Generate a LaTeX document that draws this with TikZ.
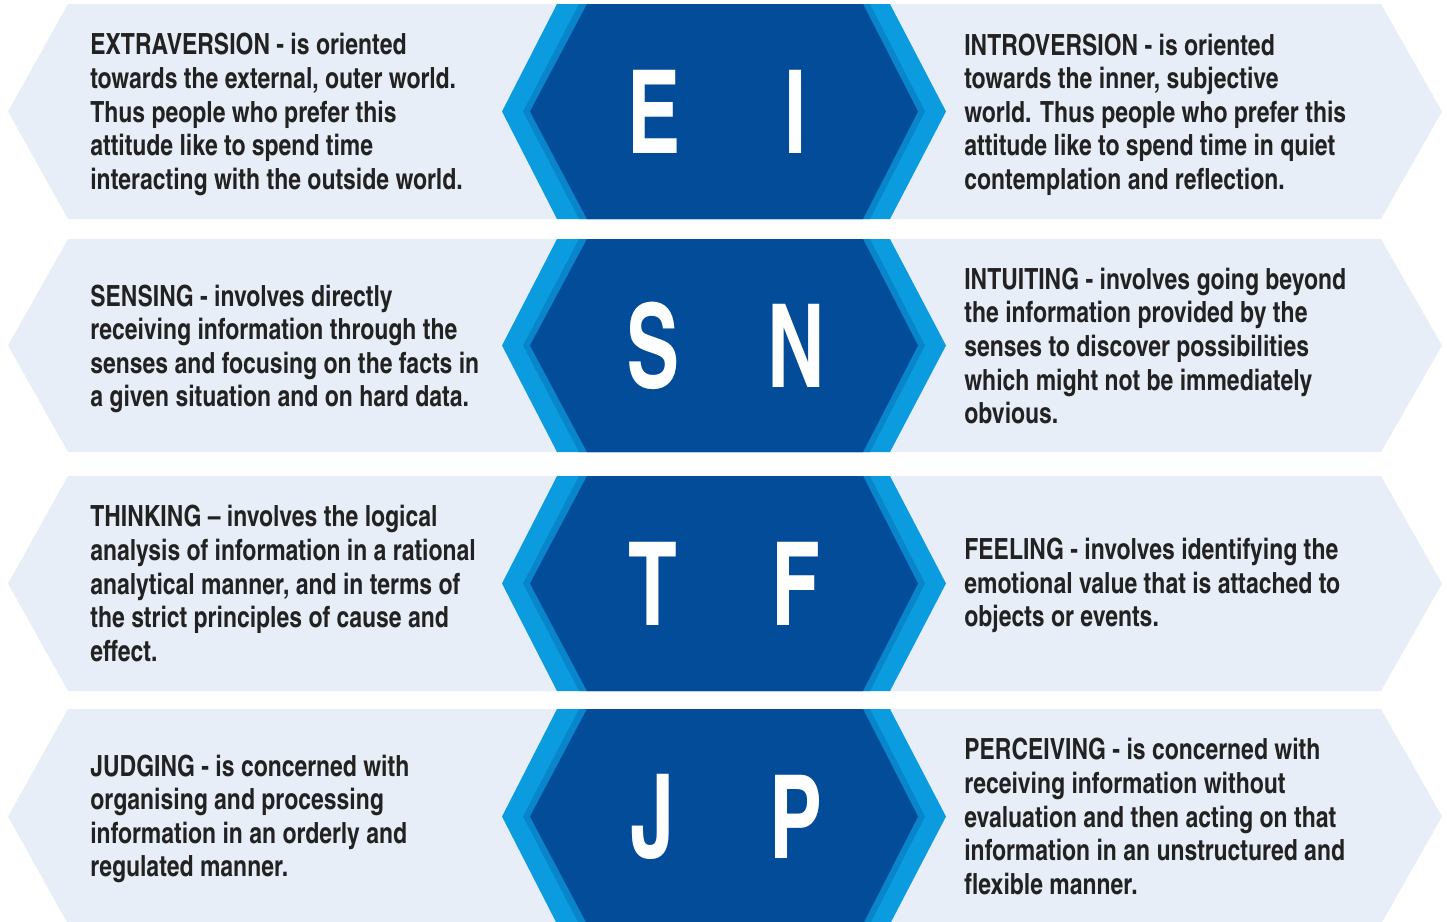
\documentclass[tikz,border=0pt]{standalone}
\usepackage{fontspec}
\setmainfont{TeX Gyre Heros Cn}[FakeStretch=0.96]
\newfontfamily\letterfont{TeX Gyre Heros Cn}[FakeStretch=0.84]
\definecolor{bandgrey}{HTML}{E8EEF7}
\definecolor{hexlight}{HTML}{0B9CDF}
\definecolor{hexshade}{HTML}{0986CB}
\definecolor{hexdark}{HTML}{034C99}
\definecolor{textgrey}{HTML}{222222}

\begin{document}
\begin{tikzpicture}[x=0.02cm,y=-0.02cm,
	band/.style={fill=bandgrey},
	outerhex/.style={fill=hexlight},
	shadehex/.style={fill=hexshade},
	innerhex/.style={fill=hexdark},
	letter/.style={text=white,inner sep=0,font=\letterfont\fontsize{66}{66}\selectfont\bfseries},
	desc/.style={anchor=west,align=left,inner sep=0,text=textgrey,font=\fontsize{16.6}{19.1}\selectfont\bfseries}]
	
		\useasboundingbox (0,0) rectangle (1447,921);
		\clip (0,0) rectangle (1447,921);
		
		% row E I
		\fill[band] (8,111.5) -- (68,4) -- (1381,4) -- (1442,111.5) -- (1381,219) -- (68,219) -- cycle;
		\fill[outerhex] (502,111.5) -- (557,4) -- (890,4) -- (946,111.5) -- (890,219) -- (557,219) -- cycle;
		\fill[shadehex] (523,111.5) -- (579,4) -- (870,4) -- (925,111.5) -- (870,219) -- (579,219) -- cycle;
		\fill[innerhex] (530,111.5) -- (587,4) -- (863,4) -- (918,111.5) -- (863,219) -- (587,219) -- cycle;
		\node[letter] (letE) at (654,111.5) {E};
		\node[letter] (letI) at (796,111.5) {I};
		\node[desc] (extra) at (90,114.5) {EXTRAVERSION - is oriented\\towards the external, outer world.\\Thus people who prefer this\\attitude like to spend time\\interacting with the outside world.};
		\node[desc] (intro) at (964,114.5) {INTROVERSION - is oriented\\towards the inner, subjective\\world. Thus people who prefer this\\attitude like to spend time in quiet\\contemplation and reflection.};
		
		% row S N
		\fill[band] (8,345.5) -- (68,239) -- (1381,239) -- (1442,345.5) -- (1381,452) -- (68,452) -- cycle;
		\fill[outerhex] (502,345.5) -- (557,239) -- (890,239) -- (946,345.5) -- (890,452) -- (557,452) -- cycle;
		\fill[shadehex] (523,345.5) -- (579,239) -- (870,239) -- (925,345.5) -- (870,452) -- (579,452) -- cycle;
		\fill[innerhex] (530,345.5) -- (587,239) -- (863,239) -- (918,345.5) -- (863,452) -- (587,452) -- cycle;
		\node[letter] (letS) at (653,345.5) {S};
		\node[letter] (letN) at (796,345.5) {N};
		\node[desc] (sens) at (90,349) {SENSING - involves directly\\receiving information through the\\senses and focusing on the facts in\\a given situation and on hard data.};
		\node[desc] (intu) at (964,346) {INTUITING - involves going beyond\\the information provided by the\\senses to discover possibilities\\which might not be immediately\\obvious.};
		
		% row T F
		\fill[band] (8,583.5) -- (68,476) -- (1381,476) -- (1442,583.5) -- (1381,691) -- (68,691) -- cycle;
		\fill[outerhex] (502,583.5) -- (557,476) -- (890,476) -- (946,583.5) -- (890,691) -- (557,691) -- cycle;
		\fill[shadehex] (523,583.5) -- (579,476) -- (870,476) -- (925,583.5) -- (870,691) -- (579,691) -- cycle;
		\fill[innerhex] (530,583.5) -- (587,476) -- (863,476) -- (918,583.5) -- (863,691) -- (587,691) -- cycle;
		\node[letter] (letT) at (653,583.5) {T};
		\node[letter] (letF) at (796,583.5) {F};
		\node[desc] (think) at (90,583.5) {THINKING -- involves the logical\\analysis of information in a rational\\analytical manner, and in terms of\\the strict principles of cause and\\effect.};
		\node[desc] (feel) at (964,585.5) {FEELING - involves identifying the\\emotional value that is attached to\\objects or events.};
		
		% row J P
		\fill[band] (8,816.5) -- (68,709) -- (1381,709) -- (1442,816.5) -- (1381,924) -- (68,924) -- cycle;
		\fill[outerhex] (502,816.5) -- (557,709) -- (890,709) -- (946,816.5) -- (890,924) -- (557,924) -- cycle;
		\fill[shadehex] (523,816.5) -- (579,709) -- (870,709) -- (925,816.5) -- (870,924) -- (579,924) -- cycle;
		\fill[innerhex] (530,816.5) -- (587,709) -- (863,709) -- (918,816.5) -- (863,924) -- (587,924) -- cycle;
		\node[letter] (letJ) at (653,816.5) {J};
		\node[letter] (letP) at (796,816.5) {P};
		\node[desc] (judg) at (90,819) {JUDGING - is concerned with\\organising and processing\\information in an orderly and\\regulated manner.};
		\node[desc] (perc) at (964,816.5) {PERCEIVING - is concerned with\\receiving information without\\evaluation and then acting on that\\information in an unstructured and\\flexible manner.};
	
	\end{tikzpicture}
\end{document}
